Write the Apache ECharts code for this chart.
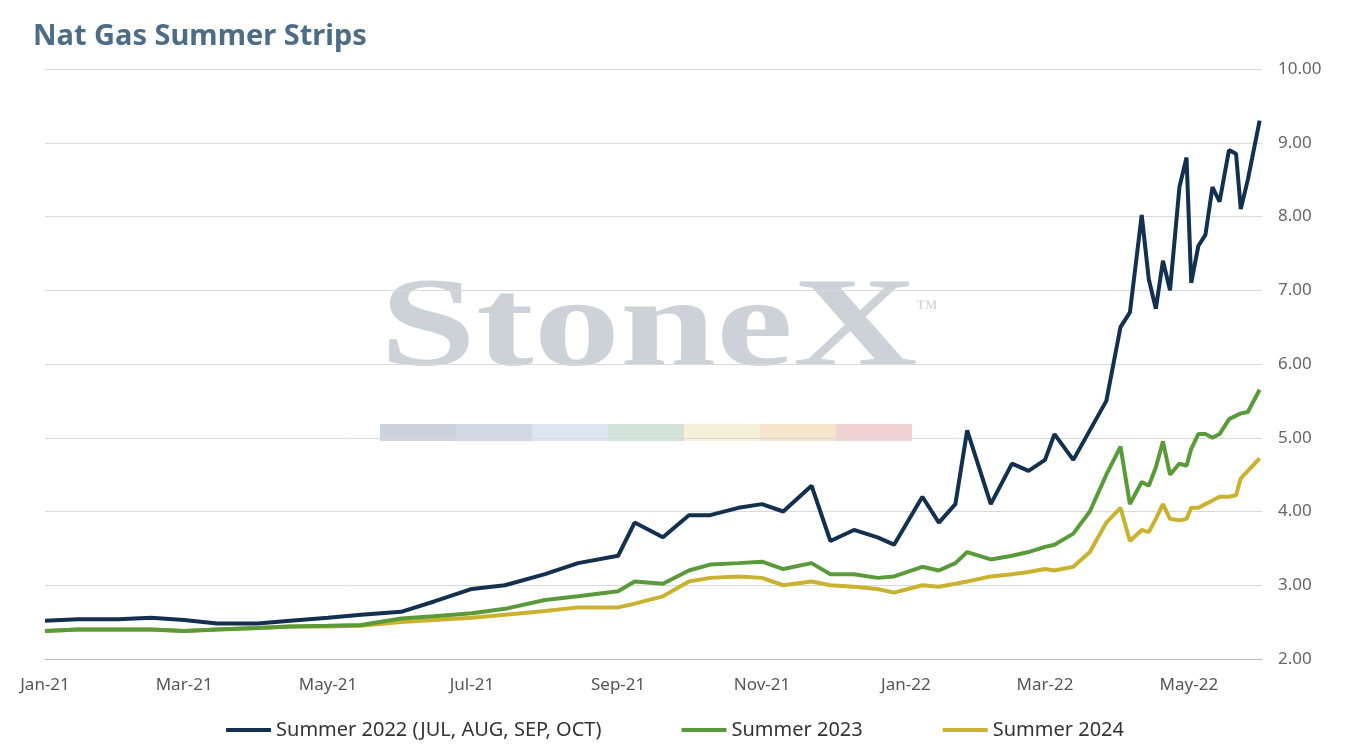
<!DOCTYPE html>
<html><head><meta charset="utf-8">
<script src="https://cdn.jsdelivr.net/npm/echarts@6/dist/echarts.min.js"></script>
<style>html,body{margin:0;padding:0;background:#fff}#c{width:1350px;height:750px}</style>
</head><body><div id="c"></div>
<script>
const dates = ['2021-01-01','2021-01-15','2021-02-01','2021-02-15','2021-03-01','2021-03-15','2021-04-01','2021-04-15','2021-05-01','2021-05-15','2021-06-01','2021-06-15','2021-07-01','2021-07-15','2021-08-01','2021-08-15','2021-09-01','2021-09-08','2021-09-20','2021-10-01','2021-10-10','2021-10-22','2021-11-01','2021-11-10','2021-11-22','2021-11-30','2021-12-10','2021-12-20','2021-12-27','2022-01-08','2022-01-15','2022-01-22','2022-01-27','2022-02-06','2022-02-15','2022-02-22','2022-03-01','2022-03-05','2022-03-13','2022-03-20','2022-03-27','2022-04-02','2022-04-06','2022-04-11','2022-04-14','2022-04-17','2022-04-20','2022-04-23','2022-04-27','2022-04-30','2022-05-02','2022-05-05','2022-05-08','2022-05-11','2022-05-14','2022-05-18','2022-05-21','2022-05-23','2022-05-26','2022-05-31'];
const summer2022 = [2.52,2.54,2.54,2.56,2.53,2.48,2.48,2.52,2.56,2.60,2.64,2.78,2.95,3.0,3.15,3.30,3.40,3.85,3.65,3.95,3.95,4.05,4.10,4.00,4.35,3.60,3.75,3.65,3.55,4.20,3.85,4.10,5.10,4.10,4.65,4.55,4.70,5.05,4.70,5.10,5.50,6.50,6.70,8.02,7.15,6.75,7.40,7.00,8.40,8.80,7.10,7.60,7.75,8.40,8.20,8.90,8.85,8.10,8.50,9.30];
const summer2023 = [2.38,2.40,2.40,2.40,2.38,2.40,2.42,2.44,2.45,2.46,2.55,2.58,2.62,2.68,2.80,2.85,2.92,3.05,3.02,3.20,3.28,3.30,3.32,3.22,3.30,3.15,3.15,3.10,3.12,3.25,3.20,3.30,3.45,3.35,3.40,3.45,3.52,3.55,3.70,4.00,4.50,4.88,4.10,4.40,4.35,4.60,4.95,4.50,4.65,4.62,4.85,5.05,5.05,5.00,5.05,5.25,5.30,5.33,5.35,5.65];
const summer2024 = [2.38,2.40,2.40,2.40,2.38,2.40,2.42,2.44,2.44,2.45,2.50,2.53,2.56,2.60,2.65,2.70,2.70,2.75,2.85,3.05,3.10,3.12,3.10,3.00,3.05,3.00,2.98,2.95,2.90,3.00,2.98,3.02,3.05,3.12,3.15,3.18,3.22,3.20,3.25,3.45,3.85,4.05,3.60,3.75,3.72,3.90,4.10,3.90,3.88,3.90,4.05,4.05,4.10,4.15,4.20,4.20,4.22,4.45,4.55,4.72];
const tickMonths = ['2021-01-01','2021-03-01','2021-05-01','2021-07-01','2021-09-01','2021-11-01','2022-01-01','2022-03-01','2022-05-01'];
const mon = ['Jan','Feb','Mar','Apr','May','Jun','Jul','Aug','Sep','Oct','Nov','Dec'];
const ts = d => Date.parse(d+'T00:00:00Z');
const ch = echarts.init(document.getElementById('c'));
const mk = a => dates.map((d,i)=>[ts(d),a[i]]);
const ticks = tickMonths.map(ts);
const wmColors = ['#ccd3dc','#d0d9e4','#dbe6f0','#d3e2d8','#f4f1d8','#f6e4cc','#f0d2d2'];
ch.setOption({
  animation:false,
  title:{text:'Nat Gas Summer Strips',left:28,top:17,textStyle:{color:'#4d6d87',fontSize:29,fontWeight:'bold',fontFamily:'Noto Sans'}},
  legend:{bottom:5,left:'center',itemGap:80,itemWidth:45,icon:'rect',itemHeight:4,textStyle:{fontSize:20,color:'#333',fontFamily:'Noto Sans'},data:['Summer 2022 (JUL, AUG, SEP, OCT)','Summer 2023','Summer 2024']},
  grid:{left:45,right:88,top:69,bottom:91},
  xAxis:{type:'value',min:ticks[0],max:ts('2022-06-01'),
    axisLine:{show:true,onZero:false,lineStyle:{color:'#bbb'}},axisTick:{show:false},splitLine:{show:false},
    axisLabel:{customValues:ticks,color:'#555',fontSize:17,margin:18,fontFamily:'Noto Sans',
      formatter:v=>{const d=new Date(v);return mon[d.getUTCMonth()]+'-'+String(d.getUTCFullYear()).slice(2);}}},
  yAxis:{type:'value',position:'right',min:2,max:10,interval:1,
    axisLabel:{color:'#666',fontSize:17,margin:16,fontFamily:'Noto Sans',formatter:v=>v.toFixed(2)},
    splitLine:{lineStyle:{color:'#d9d9d9'}},axisLine:{show:false},axisTick:{show:false}},
  graphic:[
    {type:'text',x:380,y:268,scaleX:1.35,z:0,style:{text:'StoneX',font:'bold 128px "Liberation Serif"',fill:'#cdd2d9'}},
    {type:'text',left:916,top:298,z:0,style:{text:'™',font:'22px "Liberation Serif"',fill:'#cdd2d9'}},
    ...wmColors.map((c,i)=>({type:'rect',z:0,shape:{x:380+i*76,y:424,width:76,height:17},style:{fill:c}}))
  ],
  series:[
    {name:'Summer 2022 (JUL, AUG, SEP, OCT)',type:'line',data:mk(summer2022),showSymbol:false,lineStyle:{width:4,color:'#13304f'},itemStyle:{color:'#13304f'},z:5},
    {name:'Summer 2023',type:'line',data:mk(summer2023),showSymbol:false,lineStyle:{width:4,color:'#5a9a3a'},itemStyle:{color:'#5a9a3a'},z:4},
    {name:'Summer 2024',type:'line',data:mk(summer2024),showSymbol:false,lineStyle:{width:4,color:'#c9b230'},itemStyle:{color:'#c9b230'},z:3}
  ]
});
</script></body></html>
